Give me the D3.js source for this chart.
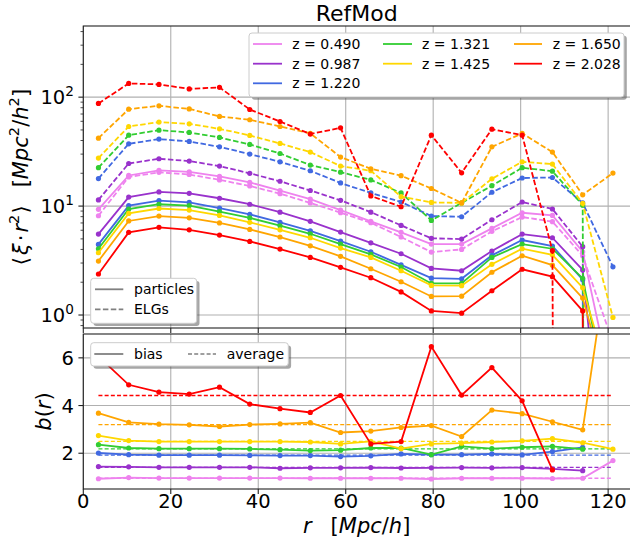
<!DOCTYPE html>
<html><head><meta charset="utf-8">
<script src="https://cdn.jsdelivr.net/npm/d3@7"></script>
<style>body{margin:0;background:#fff} text{font-family:"DejaVu Sans",sans-serif;fill:#000}</style>
</head><body><svg id="c" width="630" height="547"></svg>
<script>
// ---------------- DATA ----------------
const r = [3.46, 10.38, 17.30, 24.22, 31.14, 38.06, 44.98, 51.90, 58.82, 65.74, 72.66, 79.58, 86.50, 93.42, 100.34, 107.26, 114.18, 121.10];
const zLabels = ["0.490", "0.987", "1.220", "1.321", "1.425", "1.650", "2.028"];
const zColors = ["#ee82ee", "#9932cc", "#4169e1", "#32cd32", "#ffd700", "#ffa500", "#ff0000"];
const xTicks = [0, 20, 40, 60, 80, 100, 120];
const yTopTicks = [1, 10, 100];
const yTopTickExp = ["0", "1", "2"];
const yBotTicks = [2, 4, 6];

// <xi r^2> of particles (solid); 0 = non-positive value
const particles_z0490 = [9.33, 19.1, 21.3, 20.6, 18.7, 16.5, 13.9, 11.6, 9.2, 7.24, 5.74, 4.48, 4.48, 6.24, 8.68, 8.2, 3.81, 0.197];
const particles_z0987 = [5.53, 12.1, 13.5, 13.1, 11.8, 10.4, 8.8, 7.24, 5.77, 4.6, 3.65, 2.68, 2.55, 3.87, 5.53, 5.12, 2.59, 0.005];
const particles_z1220 = [4.45, 10.1, 11.2, 10.8, 9.6, 8.4, 7.08, 5.93, 4.77, 3.81, 2.89, 2.18, 2.15, 3.53, 4.88, 4.3, 2.11, 0];
const particles_z1321 = [4.06, 9.4, 10.4, 10.1, 8.9, 7.8, 6.6, 5.57, 4.48, 3.6, 2.76, 1.95, 1.95, 3.38, 4.48, 4.06, 2.17, 0.1];
const particles_z1425 = [3.73, 8.57, 9.5, 9.2, 8.2, 7.1, 6.06, 5.12, 4.12, 3.38, 2.55, 1.87, 1.86, 2.92, 4.06, 3.57, 1.78, 0.2];
const particles_z1650 = [3.13, 7.3, 8.1, 7.8, 7.0, 6.1, 5.2, 4.32, 3.46, 2.66, 2.02, 1.48, 1.49, 2.47, 3.5, 2.87, 1.43, 0.15];
const particles_z2028 = [2.38, 5.74, 6.38, 6.06, 5.42, 4.74, 4.03, 3.38, 2.74, 2.2, 1.63, 1.09, 1.04, 1.67, 2.63, 2.25, 1.09, 0];

// <xi r^2> of ELGs (dashed)
const elgs_z0490 = [8.15, 18.5, 20.4, 19.5, 17.4, 15.3, 13.0, 10.7, 8.7, 7.03, 5.2, 3.78, 4.0, 5.86, 7.93, 7.2, 3.5, 0.56];
const elgs_z0987 = [11.4, 24.6, 27.2, 25.9, 23.3, 20.0, 16.9, 13.9, 11.3, 8.8, 6.65, 5.06, 4.98, 7.49, 10.9, 9.4, 4.24, 0];
const elgs_z1220 = [17.9, 37.3, 41.2, 39.2, 35.0, 30.0, 25.5, 21.1, 16.3, 13.2, 10.9, 8.1, 7.98, 13.4, 18.1, 18.3, 10.7, 2.77];
const elgs_z1321 = [22.5, 44.8, 49.8, 47.4, 42.7, 36.8, 30.4, 23.8, 20.5, 17.4, 13.2, 7.39, 10.7, 15.4, 22.5, 20.9, 10.2, 0];
const elgs_z1425 = [27.6, 53.8, 59.0, 56.9, 51.2, 44.5, 37.6, 31.3, 23.3, 21.1, 12.2, 10.8, 10.7, 17.8, 25.5, 24.3, 10.6, 0.95];
const elgs_z1650 = [42, 77.6, 83.3, 78, 66.5, 62, 53.8, 46.5, 28.2, 22, 19, 14.5, 10.7, 35, 46.5, 31.3, 12.7, 20.1];
const elgs_z2028 = [87.5, 133.6, 131, 119, 123, 77, 59.8, 45.8, 52.3, 12.4, 9.86, 44.8, 20.2, 50.8, 44.8, 3.9, 0, 0];

// bias b(r) (NaN = undefined)
const bias_z0490 = [0.93, 0.98, 0.96, 0.96, 0.96, 0.96, 0.96, 0.95, 0.95, 0.95, 0.95, 0.92, 0.95, 0.95, 0.95, 0.94, 0.95, 1.69];
const bias_z0987 = [1.44, 1.43, 1.41, 1.41, 1.41, 1.41, 1.37, 1.39, 1.39, 1.40, 1.38, 1.39, 1.40, 1.39, 1.40, 1.34, 1.27, NaN];
const bias_z1220 = [2.01, 1.94, 1.92, 1.92, 1.92, 1.91, 1.90, 1.90, 1.86, 1.89, 1.97, 1.94, 1.94, 1.97, 1.93, 2.07, 2.25, NaN];
const bias_z1321 = [2.36, 2.22, 2.19, 2.19, 2.19, 2.18, 2.15, 2.11, 2.13, 2.22, 2.22, 1.94, 2.29, 2.19, 2.25, 2.29, 2.17, NaN];
const bias_z1425 = [2.74, 2.53, 2.49, 2.49, 2.49, 2.49, 2.49, 2.47, 2.39, 2.50, 2.19, 2.39, 2.42, 2.47, 2.52, 2.61, 2.44, 2.17];
const bias_z1650 = [3.68, 3.29, 3.22, 3.19, 3.12, 3.20, 3.23, 3.28, 2.87, 2.93, 3.08, 3.16, 2.70, 3.81, 3.66, 3.32, 2.98, 11.6];
const bias_z2028 = [6.06, 4.87, 4.56, 4.48, 4.77, 4.06, 3.87, 3.71, 4.42, 2.39, 2.49, 6.47, 4.44, 5.59, 4.20, 1.30, NaN, NaN];
const biasAverage = [0.95, 1.41, 1.92, 2.18, 2.50, 3.20, 4.42];

const particles = [particles_z0490, particles_z0987, particles_z1220, particles_z1321, particles_z1425, particles_z1650, particles_z2028];
const elgs = [elgs_z0490, elgs_z0987, elgs_z1220, elgs_z1321, elgs_z1425, elgs_z1650, elgs_z2028];
const biases = [bias_z0490, bias_z0987, bias_z1220, bias_z1321, bias_z1425, bias_z1650, bias_z2028];

// ---------------- LAYOUT ----------------
const svg = d3.select("#c");
svg.append("rect").attr("width", 630).attr("height", 547).attr("fill", "#fff");
const L = 83.3, R = 630;
const T1 = 26, B1 = 328, T2 = 334, B2 = 489;
const x = d3.scaleLinear().domain([0, 125]).range([L, R]);
const yTop = d3.scaleLog().domain([0.76, 450]).range([B1, T1]);
const yBot = d3.scaleLinear().domain([0.5, 7]).range([B2, T2]);
const gridC = "#b0b0b0", spineC = "#222";
const TICK = 4.9, MINOR = 2.8, FS = 19.5;

const defs = svg.append("defs");
defs.append("clipPath").attr("id", "c1").append("rect").attr("x", L).attr("y", T1).attr("width", R - L).attr("height", B1 - T1);
defs.append("clipPath").attr("id", "c2").append("rect").attr("x", L).attr("y", T2).attr("width", R - L).attr("height", B2 - T2);

// grids
const grid = svg.append("g").attr("stroke", gridC).attr("stroke-width", 1.1);
xTicks.forEach(t => {
  grid.append("line").attr("x1", x(t)).attr("x2", x(t)).attr("y1", T1).attr("y2", B1);
  grid.append("line").attr("x1", x(t)).attr("x2", x(t)).attr("y1", T2).attr("y2", B2);
});
yTopTicks.forEach(t => grid.append("line").attr("x1", L).attr("x2", R).attr("y1", yTop(t)).attr("y2", yTop(t)));
yBotTicks.forEach(t => grid.append("line").attr("x1", L).attr("x2", R).attr("y1", yBot(t)).attr("y2", yBot(t)));

// ---------------- TOP PANEL ----------------
const gTop = svg.append("g").attr("clip-path", "url(#c1)");
const lineTop = d3.line().x((d, j) => x(r[j])).y(d => d > 0 ? yTop(d) : yTop(1e-60));
zColors.forEach((col, i) => {
  [[particles[i], null], [elgs[i], "5.5,2.4"]].forEach(([arr, dash]) => {
    gTop.append("path").attr("d", lineTop(arr)).attr("fill", "none").attr("stroke", col)
      .attr("stroke-width", 1.8).attr("stroke-dasharray", dash);
    arr.forEach((v, j) => { if (v > 0) gTop.append("circle").attr("cx", x(r[j])).attr("cy", yTop(v)).attr("r", 2.6).attr("fill", col); });
  });
});

// ---------------- BOTTOM PANEL ----------------
const gBot = svg.append("g").attr("clip-path", "url(#c2)");
const lineBot = d3.line().defined(d => !isNaN(d)).x((d, j) => x(r[j])).y(d => yBot(d));
zColors.forEach((col, i) => {
  gBot.append("line").attr("x1", x(r[0])).attr("x2", x(r[r.length - 1]))
    .attr("y1", yBot(biasAverage[i])).attr("y2", yBot(biasAverage[i]))
    .attr("stroke", col).attr("stroke-width", 1.3).attr("stroke-dasharray", "4,2.2");
});
zColors.forEach((col, i) => {
  gBot.append("path").attr("d", lineBot(biases[i])).attr("fill", "none").attr("stroke", col).attr("stroke-width", 1.8);
  biases[i].forEach((v, j) => { if (!isNaN(v)) gBot.append("circle").attr("cx", x(r[j])).attr("cy", yBot(v)).attr("r", 2.6).attr("fill", col); });
});

// ---------------- AXES ----------------
const ax = svg.append("g").attr("stroke", spineC).attr("stroke-width", 1.1).attr("fill", "none");
ax.append("rect").attr("x", L).attr("y", T1).attr("width", R - L + 2).attr("height", B1 - T1);
ax.append("rect").attr("x", L).attr("y", T2).attr("width", R - L + 2).attr("height", B2 - T2);
xTicks.forEach(t => {
  ax.append("line").attr("x1", x(t)).attr("x2", x(t)).attr("y1", B1).attr("y2", B1 + TICK);
  ax.append("line").attr("x1", x(t)).attr("x2", x(t)).attr("y1", B2).attr("y2", B2 + TICK);
  svg.append("text").attr("x", x(t)).attr("y", 508).attr("text-anchor", "middle")
    .attr("font-size", FS).text(t);
});
// log ticks
[0.8, 0.9, 2, 3, 4, 5, 6, 7, 8, 9, 20, 30, 40, 50, 60, 70, 80, 90, 200, 300, 400].forEach(t => {
  ax.append("line").attr("x1", L - MINOR).attr("x2", L).attr("y1", yTop(t)).attr("y2", yTop(t)).attr("stroke-width", 0.8);
});
yTopTicks.forEach((t, k) => {
  ax.append("line").attr("x1", L - TICK).attr("x2", L).attr("y1", yTop(t)).attr("y2", yTop(t));
  const tx = svg.append("text").attr("x", L - TICK - 4.5).attr("y", yTop(t) + 7).attr("text-anchor", "end").attr("font-size", FS);
  tx.append("tspan").text("10");
  tx.append("tspan").attr("font-size", FS * 0.7).attr("dy", -8).text(yTopTickExp[k]);
});
yBotTicks.forEach(t => {
  ax.append("line").attr("x1", L - TICK).attr("x2", L).attr("y1", yBot(t)).attr("y2", yBot(t));
  svg.append("text").attr("x", L - TICK - 4.5).attr("y", yBot(t) + 7).attr("text-anchor", "end").attr("font-size", FS).text(t);
});

// title and labels
svg.append("text").attr("x", (L + R) / 2).attr("y", 21).attr("text-anchor", "middle").attr("font-size", 22).text("RefMod");

function mathText(sel, parts, fs) {
  parts.forEach(p => {
    const ts = sel.append("tspan").text(p.t);
    if (p.it) ts.attr("font-style", "italic");
    if (p.sup) ts.attr("font-size", fs * 0.7).attr("dy", -fs * 0.42);
    if (p.down) ts.attr("dy", fs * 0.42);
    if (p.dx) ts.attr("dx", p.dx);
  });
}
const LFS = 21;
const yl1 = svg.append("text").attr("transform", `translate(28,${(T1 + B1) / 2}) rotate(-90)`)
  .attr("text-anchor", "middle").attr("font-size", LFS);
mathText(yl1, [{t: "⟨"}, {t: "ξ", it: 1, dx: 2}, {t: "·", dx: 2}, {t: "r", it: 1, dx: 2}, {t: "2", sup: 1},
  {t: "⟩", down: 1, dx: 1}, {t: "[", dx: 18}, {t: "Mpc", it: 1}, {t: "2", sup: 1}, {t: "/", down: 1}, {t: "h", it: 1}, {t: "2", sup: 1}, {t: "]", down: 1}], LFS);

const yl2 = svg.append("text").attr("transform", `translate(51,${(T2 + B2) / 2}) rotate(-90)`)
  .attr("text-anchor", "middle").attr("font-size", LFS);
mathText(yl2, [{t: "b", it: 1}, {t: "("}, {t: "r", it: 1}, {t: ")"}], LFS);

const xl = svg.append("text").attr("x", (L + R) / 2).attr("y", 533).attr("text-anchor", "middle").attr("font-size", LFS);
mathText(xl, [{t: "r", it: 1}, {t: "[", dx: 19}, {t: "Mpc", it: 1}, {t: "/"}, {t: "h", it: 1}, {t: "]"}], LFS);

// ---------------- LEGENDS ----------------
function legendBox(x0, y0, w, h) {
  svg.append("rect").attr("x", x0 + 2.8).attr("y", y0 + 2.8).attr("width", w).attr("height", h).attr("rx", 3)
    .attr("fill", "#4d4d4d").attr("fill-opacity", 0.5);
  svg.append("rect").attr("x", x0).attr("y", y0).attr("width", w).attr("height", h).attr("rx", 3)
    .attr("fill", "#fff").attr("stroke", "#cccccc").attr("stroke-width", 1);
}
const LGF = 14;
// z legend
legendBox(249, 33, 375, 64);
const colX = [[253, 282, 292.3], [383, 412, 422], [514, 542, 552.7]];
const rowY = [44, 63.7, 83.3];
const slot = [[0, 0], [0, 1], [0, 2], [1, 0], [1, 1], [2, 0], [2, 1]];
zLabels.forEach((zl, i) => {
  const [c, rr] = slot[i];
  svg.append("line").attr("x1", colX[c][0]).attr("x2", colX[c][1]).attr("y1", rowY[rr]).attr("y2", rowY[rr])
    .attr("stroke", zColors[i]).attr("stroke-width", 1.8);
  svg.append("text").attr("x", colX[c][2]).attr("y", rowY[rr] + 5).attr("font-size", LGF).text("z = " + zl);
});
// particles / ELGs legend
legendBox(90.7, 278.3, 106, 45);
[["particles", null, 289.3], ["ELGs", "5.5,2.4", 309.3]].forEach(([lab, dash, yy]) => {
  svg.append("line").attr("x1", 95).attr("x2", 123.3).attr("y1", yy).attr("y2", yy).attr("stroke", "#808080")
    .attr("stroke-width", 1.8).attr("stroke-dasharray", dash);
  svg.append("text").attr("x", 134).attr("y", yy + 5).attr("font-size", LGF).text(lab);
});
// bias legend
legendBox(90.7, 342.7, 197.6, 23.3);
svg.append("line").attr("x1", 94.3).attr("x2", 123.3).attr("y1", 354).attr("y2", 354).attr("stroke", "#808080").attr("stroke-width", 1.8);
svg.append("text").attr("x", 134).attr("y", 359).attr("font-size", LGF).text("bias");
svg.append("line").attr("x1", 188).attr("x2", 216).attr("y1", 354).attr("y2", 354).attr("stroke", "#808080")
  .attr("stroke-width", 1.3).attr("stroke-dasharray", "4,2.2");
svg.append("text").attr("x", 226.7).attr("y", 359).attr("font-size", LGF).text("average");
</script></body></html>
